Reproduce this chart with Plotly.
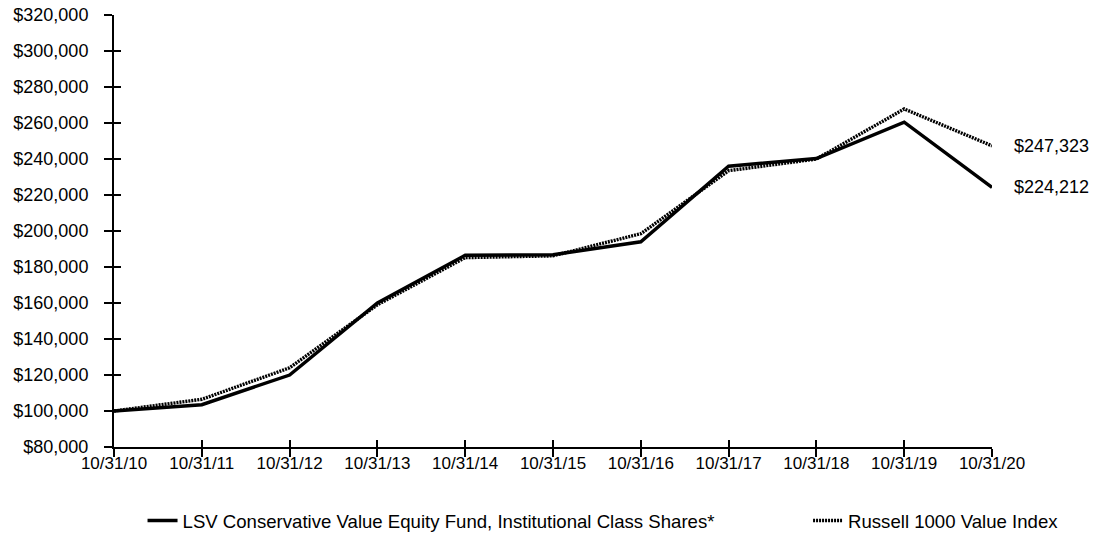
import plotly.graph_objects as go

dates = ["10/31/10", "10/31/11", "10/31/12", "10/31/13", "10/31/14", "10/31/15",
         "10/31/16", "10/31/17", "10/31/18", "10/31/19", "10/31/20"]
fund = [100000, 103500, 120000, 160000, 186500, 186800, 194000, 236000, 240300, 260500, 224212]
index = [100000, 106500, 124000, 159000, 185200, 186200, 198500, 233500, 240000, 267800, 247323]
fund_name = "LSV Conservative Value Equity Fund, Institutional Class Shares*"
index_name = "Russell 1000 Value Index"
y_ticks = list(range(80000, 320001, 20000))

font = dict(family="Liberation Sans, Arial, sans-serif", size=18, color="#000")
xfont = dict(family="Liberation Sans, Arial, sans-serif", size=17, color="#000")
lfont = dict(family="Liberation Sans, Arial, sans-serif", size=18.6, color="#000")
xs = list(range(len(dates)))

fig = go.Figure()
fig.add_trace(go.Scatter(x=xs, y=fund, mode="lines", name=fund_name, legend="legend",
                         line=dict(color="#000", width=3.4)))
fig.add_trace(go.Scatter(x=xs, y=index, mode="lines", name=index_name, legend="legend2",
                         line=dict(color="#000", width=3.4, dash="2px,1px")))

for v in (index[-1], fund[-1]):
    fig.add_annotation(x=xs[-1], y=v, xref="x", yref="y", text=f"${v:,.0f}",
                       showarrow=False, xanchor="left", xshift=20, font=font)

fig.update_layout(
    template="none",
    width=1094, height=535, plot_bgcolor="white", paper_bgcolor="white",
    margin=dict(l=114, r=102, t=15, b=88, autoexpand=False), font=font,
    showlegend=True,
    legend=dict(orientation="h", x=0.0325, y=-0.171, yanchor="middle", xanchor="left",
                font=lfont, bgcolor="rgba(0,0,0,0)"),
    legend2=dict(orientation="h", x=0.7905, y=-0.171, yanchor="middle", xanchor="left",
                 font=lfont, bgcolor="rgba(0,0,0,0)"),
    xaxis=dict(range=[0, 10], tickvals=xs, ticktext=dates, showline=True, linecolor="#000",
               linewidth=2, ticks="outside", ticklen=8, tickwidth=2, tickcolor="#000",
               showgrid=False, zeroline=False, tickfont=xfont, automargin=False,
               ticklabelstandoff=-8),
    yaxis=dict(range=[80000, 320000], tickvals=y_ticks,
               ticktext=[f"${v:,.0f}" for v in y_ticks], showline=True, linecolor="#000",
               linewidth=2, ticks="outside", ticklen=8, tickwidth=2, tickcolor="#000",
               showgrid=False, zeroline=False, tickfont=font, automargin=False,
               ticklabelstandoff=12),
    xaxis2=dict(overlaying="x", matches="x", range=[0, 10], tickvals=xs, ticks="inside",
                ticklen=7, tickwidth=2, tickcolor="#000", showticklabels=False,
                showgrid=False, zeroline=False, showline=False, side="bottom",
                automargin=False),
    yaxis2=dict(overlaying="y", matches="y", range=[80000, 320000], tickvals=y_ticks,
                ticks="inside", ticklen=7, tickwidth=2, tickcolor="#000",
                showticklabels=False, showgrid=False, zeroline=False, showline=False,
                automargin=False),
)
fig.add_trace(go.Scatter(x=[xs[0]], y=[fund[0]], xaxis="x2", yaxis="y2", mode="markers",
                         marker=dict(opacity=0), showlegend=False, hoverinfo="skip"))
fig.write_html("out.html", config={"displayModeBar": False},
               post_script="document.body.style.margin='0';document.body.style.overflow='hidden';")
